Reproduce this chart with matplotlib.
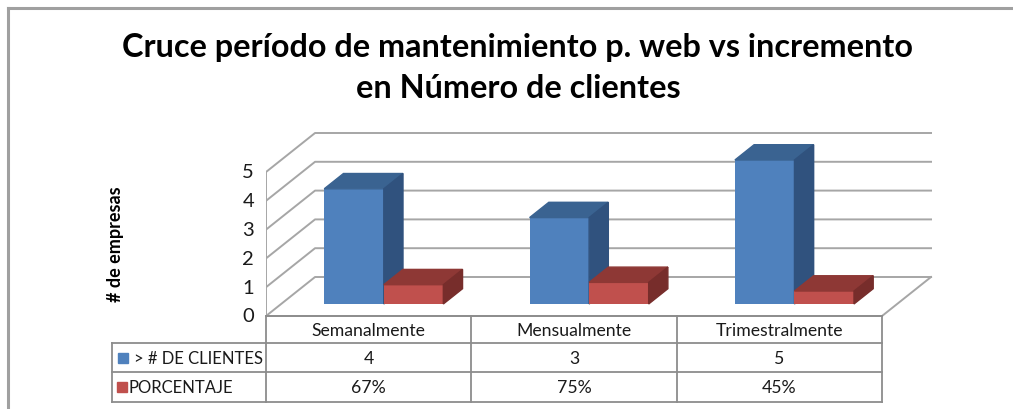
import numpy as np
import matplotlib
matplotlib.use("Agg")
import matplotlib.pyplot as plt
from matplotlib.patches import Polygon
from matplotlib.transforms import Affine2D, blended_transform_factory

# datos
categorias = ["Semanalmente", "Mensualmente", "Trimestralmente"]
clientes = [4, 3, 5]
porcentaje = [0.67, 0.75, 0.45]
etiquetas_pct = ["67%", "75%", "45%"]
series = ["> # DE CLIENTES", "PORCENTAJE"]

plt.rcParams['font.family'] = ['Lato', 'DejaVu Sans']

W, H = 1013, 410
fig = plt.figure(figsize=(W / 100, H / 100), dpi=100)

# pixel helpers (desde arriba a la izquierda)
pix = Affine2D().scale(1 / 100, -1 / 100).translate(0, H / 100) + fig.dpi_scale_trans

# ejes: x en categorias, y en valores
px_cat, x0 = 205.33, 368.7
px_val, y0 = 28.8, 317
xlo, xhi = -0.5, 3.0
ylo, yhi = -0.5, 6.6
ax = fig.add_axes([(x0 + xlo * px_cat) / W, 1 - (y0 - ylo * px_val) / H,
                   (xhi - xlo) * px_cat / W, (yhi - ylo) * px_val / H])
ax.set_xlim(xlo, xhi)
ax.set_ylim(ylo, yhi)
ax.axis('off')

# profundidad oblicua
DX, DY = 49 / px_cat, 39 / px_val


def proj(x, v, d):
    return (x + d * DX, v + d * DY)


grid_c = '#a6a6a6'
n = len(categorias)
# paredes y rejilla
for k in range(6):
    a = proj(-0.5, k, 0)
    b = proj(-0.5, k, 1)
    c = proj(n - 0.5, k, 1)
    ax.plot([a[0], b[0], c[0]], [a[1], b[1], c[1]], color=grid_c, lw=1.4, zorder=1)
a = proj(-0.5, 0, 0)
b = proj(-0.5, 5, 0)
ax.plot([a[0], b[0]], [a[1], b[1]], color=grid_c, lw=1.4, zorder=1)
# suelo
f = [proj(-0.5, 0, 0), proj(n - 0.5, 0, 0), proj(n - 0.5, 0, 1)]
ax.plot([p[0] for p in f], [p[1] for p in f], color=grid_c, lw=1.4, zorder=1)

# barras 3D
bw = 0.29
d0, d1 = 0.308, 0.70
colores = [('#4f81bd', '#3a6391', '#30527e'), ('#c0504d', '#8e3835', '#772d2b')]
for i in range(n):
    for s, vals in enumerate([clientes, porcentaje]):
        x_left = i - bw + s * bw
        v = vals[i]
        front, top, side = colores[s]
        fx, fy = proj(x_left, 0, d0)
        ax.bar(fx, v, width=bw, bottom=fy, align='edge', color=front, zorder=3 + i)
        top_poly = [proj(x_left, v, d0), proj(x_left + bw, v, d0),
                    proj(x_left + bw, v, d1), proj(x_left, v, d1)]
        side_poly = [proj(x_left + bw, 0, d0), proj(x_left + bw, v, d0),
                     proj(x_left + bw, v, d1), proj(x_left + bw, 0, d1)]
        ax.add_patch(Polygon(top_poly, closed=True, color=top, zorder=3 + i))
        ax.add_patch(Polygon(side_poly, closed=True, color=side, zorder=3 + i))

# etiquetas eje y
for k in range(6):
    ax.text(-0.5 - 12 / px_cat, k, str(k), ha='right', va='center', fontsize=14.5, color='#1a1a1a')

# tabla de datos
tb = blended_transform_factory(ax.transData, pix)
tp = pix
rows = [317, 344, 373, 403]
lc = '#8c8c8c'
ax.plot([-0.5, n - 0.5], [rows[0], rows[0]], transform=tb, color=lc, lw=1.3, clip_on=False)
for r in rows[1:]:
    ax.plot([-0.5, n - 0.5], [r, r], transform=tb, color=lc, lw=1.3, clip_on=False)
    fig.add_artist(plt.Line2D([112, 266], [r, r], transform=tp, color=lc, lw=1.3))
fig.add_artist(plt.Line2D([112, 112], [rows[1], rows[3]], transform=tp, color=lc, lw=1.3))
for j in range(n + 1):
    ax.plot([j - 0.5, j - 0.5], [rows[0], rows[3]], transform=tb, color=lc, lw=1.3, clip_on=False)

fs_tab = 12.7
for i in range(n):
    ax.text(i, (rows[0] + rows[1]) / 2 + 1, categorias[i], transform=tb, ha='center', va='center',
            fontsize=fs_tab, color='#1a1a1a', clip_on=False)
    ax.text(i, (rows[1] + rows[2]) / 2, str(clientes[i]), transform=tb, ha='center', va='center',
            fontsize=fs_tab, color='#1a1a1a', clip_on=False)
    ax.text(i, (rows[2] + rows[3]) / 2, etiquetas_pct[i], transform=tb, ha='center', va='center',
            fontsize=fs_tab, color='#1a1a1a', clip_on=False)

# leyenda dentro de la tabla
fig.add_artist(plt.Rectangle((118, (rows[1] + rows[2]) / 2 + 5), 10, -10, transform=tp, color=colores[0][0]))
fig.text(134, (rows[1] + rows[2]) / 2, series[0], transform=tp, ha='left', va='center',
         fontsize=12, color='#1a1a1a')
fig.add_artist(plt.Rectangle((117, (rows[2] + rows[3]) / 2 + 5), 10, -10, transform=tp, color=colores[1][0]))
fig.text(128, (rows[2] + rows[3]) / 2, series[1], transform=tp, ha='left', va='center',
         fontsize=12, color='#1a1a1a')

# titulos
fig.text(518, 47, "Cruce período de mantenimiento p. web vs incremento", transform=tp,
         ha='center', va='center', fontsize=23.3, fontweight='bold')
fig.text(518, 88, "en Número de clientes", transform=tp,
         ha='center', va='center', fontsize=23.3, fontweight='bold')
fig.text(115, 244, "# de empresas", transform=tp, rotation=90,
         ha='center', va='center', fontsize=13, fontweight='bold')

# marco
fig.add_artist(plt.Line2D([8, 8], [9, H], transform=tp, color='#a0a0a0', lw=2.2))
fig.add_artist(plt.Line2D([8, W], [9, 9], transform=tp, color='#a0a0a0', lw=2.2))

plt.savefig("out.png", dpi=100)
